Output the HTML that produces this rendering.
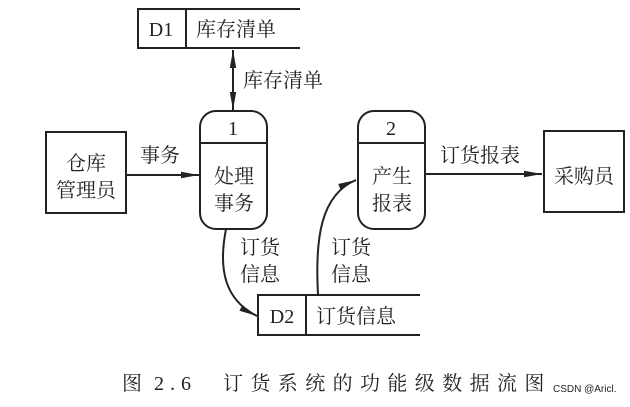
<!DOCTYPE html>
<html><head><meta charset="utf-8"><style>
html,body{margin:0;padding:0;background:#fff;}
svg{display:block}
text{font-family:"Liberation Serif","Noto Serif CJK SC","Noto Sans CJK SC",serif;fill:#222;}
</style></head><body>
<svg width="630" height="407" viewBox="0 0 630 407" xmlns="http://www.w3.org/2000/svg">
<defs>
<marker id="a" viewBox="0 0 10 10" refX="10" refY="5" markerWidth="18" markerHeight="8" markerUnits="userSpaceOnUse" preserveAspectRatio="none" orient="auto-start-reverse"><path d="M0,1 L10,5 L0,9 Z" fill="#222"/></marker>
</defs>
<g stroke="#222" stroke-width="2" fill="none">
<path d="M300,9 H138 V48 H300"/>
<line x1="186" y1="9" x2="186" y2="48"/>
<line x1="233" y1="50" x2="233" y2="110" marker-start="url(#a)" marker-end="url(#a)"/>
<rect x="46" y="132" width="80" height="81"/>
<line x1="126" y1="175" x2="199" y2="175" marker-end="url(#a)"/>
<rect x="200" y="111" width="67" height="118" rx="16"/>
<line x1="200" y1="143" x2="267" y2="143"/>
<rect x="358" y="111" width="67" height="118" rx="16"/>
<line x1="358" y1="143" x2="425" y2="143"/>
<line x1="425" y1="174" x2="542" y2="174" marker-end="url(#a)"/>
<rect x="544" y="131" width="80" height="81"/>
<path d="M420,295 H258 V335 H420"/>
<line x1="306" y1="295" x2="306" y2="335"/>
<path d="M226,229 C218,270 225,300 257,316" marker-end="url(#a)"/>
<path d="M318,295 C315,240 320,195 356,180" marker-end="url(#a)"/>
</g>
<g font-size="20">
<text x="161" y="36" text-anchor="middle">D1</text>
<text x="196" y="36">库存清单</text>
<text x="243" y="87">库存清单</text>
<text x="86" y="170" text-anchor="middle">仓库</text>
<text x="86" y="197" text-anchor="middle">管理员</text>
<text x="140" y="162">事务</text>
<text x="233" y="135" text-anchor="middle">1</text>
<text x="234" y="183" text-anchor="middle">处理</text>
<text x="234" y="210" text-anchor="middle">事务</text>
<text x="391" y="135" text-anchor="middle">2</text>
<text x="392" y="183" text-anchor="middle">产生</text>
<text x="392" y="210" text-anchor="middle">报表</text>
<text x="440" y="162">订货报表</text>
<text x="584" y="183" text-anchor="middle">采购员</text>
<text x="240" y="254">订货</text>
<text x="240" y="281">信息</text>
<text x="331" y="254">订货</text>
<text x="331" y="281">信息</text>
<text x="282" y="323" text-anchor="middle">D2</text>
<text x="316" y="323">订货信息</text>
</g>
<text x="122" y="390" font-size="20">图</text>
<text x="154" y="390" font-size="20" letter-spacing="6">2.6</text>
<text x="223" y="390" font-size="20" letter-spacing="7.4">订货系统的功能级数据流图</text>
<text x="553" y="392" font-size="10" style="font-family:'Liberation Sans',sans-serif" fill="#888">CSDN @Aricl.</text>
</svg>
</body></html>
